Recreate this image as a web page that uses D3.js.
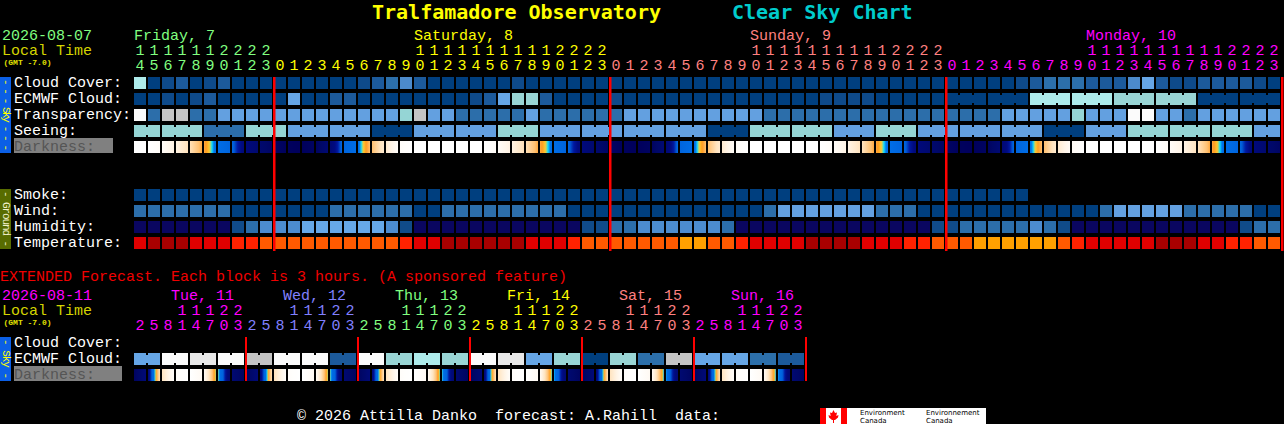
<!DOCTYPE html>
<html><head><meta charset="utf-8">
<script src="https://cdn.jsdelivr.net/npm/d3@7"></script>
<style>html,body{margin:0;padding:0;background:#000;overflow:hidden}svg{display:block}text{white-space:pre}</style>
</head><body><svg id="c" width="1284" height="424"></svg>
<script>
// ---------------- DATA ----------------
const mainHours = [14,15,16,17,18,19,20,21,22,23,
  0,1,2,3,4,5,6,7,8,9,10,11,12,13,14,15,16,17,18,19,20,21,22,23,
  0,1,2,3,4,5,6,7,8,9,10,11,12,13,14,15,16,17,18,19,20,21,22,23,
  0,1,2,3,4,5,6,7,8,9,10,11,12,13,14,15,16,17,18,19,20,21,22,23];
const mainDays = ["Friday, 7","Saturday, 8","Sunday, 9","Monday, 10"];
const mainDayColors = ["#80FF80","#FFFF00","#FF8080","#FF00FF"];
const mainDayLabelCol = [0,20,44,68];
const mainDayStartCol = [0,10,34,58];

// cloud cover %, hourly
const cloudCover = [70,0,10,20,0,10,20,0,0,0,
  0,0,0,0,0,0,10,20,30,40,20,0,0,0,0,0,0,10,0,0,0,0,0,0,
  0,0,0,0,0,0,0,0,0,0,0,0,0,0,0,0,0,0,0,0,0,0,0,0,
  0,0,0,0,0,10,20,30,30,30,20,20,20,40,50,20,10,10,20,20,20,20,10,0];
// ECMWF cloud %, hourly (Fri-Sun) then 3-hourly (Mon)
const ecmwfHourly = [0,0,10,0,10,20,0,0,0,0,
  0,50,0,0,20,20,0,0,0,0,0,0,0,0,10,20,50,60,60,20,0,0,0,0,
  10,0,0,0,0,0,0,0,0,0,0,0,0,0,0,10,10,10,10,0,0,0,0,0];
const ecmwf3h = [0,0,70,70,60,60,0,0];
// transparency 0=too cloudy .. 5=transparent
const transparency = [0,4,1,1,4,4,3,3,3,3,
  3,3,3,3,3,3,3,3,3,2,1,3,3,4,4,4,4,4,3,4,4,4,4,4,
  4,3,3,3,3,3,3,3,3,3,3,4,4,4,4,4,4,4,4,4,4,4,4,4,
  4,4,4,4,3,3,3,3,3,2,3,3,3,0,0,3,3,4,3,3,3,3,3,3];
// seeing 3-hour blocks, 1=bad .. 5=excellent
const seeing = [2,2,4,2,3,3,5,3,3,2,3,3,3,3,5,2,2,3,2,3,3,3,5,3,2,2,2,3];
// darkness (0 = daylight .. 10 = darkest), value at start of each hour (+ end)
const darkness = [0,0,0.3,1.1,2.1,3.3,4.6,5.3,6.8,7.6,
  8.4,8.9,9.0,8.6,7.3,5.3,4.6,3.0,1.6,0.2,0,0,0,0,0,0,0.3,1.1,2.1,3.3,4.6,5.3,6.8,7.6,
  8.4,8.9,9.0,8.6,7.3,5.3,4.6,3.0,1.6,0.3,0,0,0,0,0,0,0.3,1.0,2.0,3.3,4.6,5.3,6.8,7.6,
  8.4,8.9,9.0,8.6,7.3,5.3,4.6,3.0,1.6,0.4,0,0,0,0,0,0,0.3,1.0,2.0,3.3,4.6,5.3,6.8,7.6,
  8.4];
const smoke = [0,0,0,0,0,0,0,0,0,0,0,0,0,0,0,0,0,0,0,0,0,0,0,0,0,0,0,0,0,0,0,0,
  0,0,0,0,0,0,0,0,0,0,0,0,0,0,0,0,0,0,0,0,0,0,0,0,0,0,0,0,0,0,0,0];
// wind mph
const wind = [8,8,8,8,8,8,8,3,3,3,
  3,3,3,3,8,8,8,8,8,8,3,3,8,8,8,8,8,8,8,8,8,3,3,3,
  3,3,3,3,3,3,3,3,3,3,3,8,14,14,14,14,14,14,14,8,8,8,3,3,
  3,3,3,3,3,3,3,3,3,3,3,8,14,14,14,14,14,8,8,8,8,8,3,3];
// humidity %
const humidity = [20,20,20,20,20,20,20,35,45,55,
  55,55,65,65,65,65,65,65,55,35,20,20,20,20,20,20,20,20,20,20,20,20,35,35,
  45,45,55,55,55,55,55,55,45,20,20,20,20,20,20,20,20,20,20,20,20,20,20,35,
  35,45,45,45,45,45,55,45,35,20,20,20,20,20,20,20,20,20,20,20,20,35,45,45];
// temperature F
const temperature = [88,95,95,95,88,88,88,82,82,75,
  75,75,75,75,75,75,75,75,75,82,88,88,95,95,95,95,95,95,88,88,88,82,75,75,
  75,75,75,75,75,70,70,75,75,82,88,88,88,88,95,95,95,95,88,88,88,82,82,75,
  75,75,70,70,70,70,70,70,75,82,88,88,88,88,88,95,95,95,88,88,82,82,75,75];

// extended forecast
const extHours = [2,5,8,11,14,17,20,23, 2,5,8,11,14,17,20,23, 2,5,8,11,14,17,20,23,
  2,5,8,11,14,17,20,23, 2,5,8,11,14,17,20,23, 2,5,8,11,14,17,20,23];
const extDays = ["Tue, 11","Wed, 12","Thu, 13","Fri, 14","Sat, 15","Sun, 16"];
const extDayColors = ["#FF00FF","#8080FF","#80FF80","#FFFF00","#FF8080","#FF00FF"];
const extEcmwf = [50,100,90,100, 80,100,100,20, 100,60,70,60, 100,90,50,60, 0,60,30,80, 50,50,30,20];
const extDarkness = [8.6,7.0,2.0,0.2,0,0.5,4.0,7.4, 8.6,7.0,2.1,0.2,0,0.5,4.0,7.4,
  8.6,7.0,2.0,0.2,0,0.5,4.1,7.4, 8.6,7.0,2.0,0.2,0,0.5,4.2,7.4,
  8.6,7.0,2.0,0.2,0,0.5,4.3,7.4, 8.6,7.0,2.0,0.2,0,0.5,4.3,7.4, 8.6];

const skyRows = ["Cloud Cover:","ECMWF Cloud:","Transparency:","Seeing:","Darkness:"];
const groundRows = ["Smoke:","Wind:","Humidity:","Temperature:"];
const extRows = ["Cloud Cover:","ECMWF Cloud:","Darkness:"];

// ---------------- COLOURS ----------------
const cloudColor = d3.scaleThreshold().domain([5,15,25,35,45,55,65,75,85,95])
  .range(["#003F7F","#0E4A8A","#1C5A9B","#2C6FAA","#4C8ACB","#66A6E6","#99D5D5","#ADEBEB","#C4C4C4","#E8E8E8","#FBFBFB"]);
const levelColor = d3.scaleOrdinal().domain([0,1,2,3,4,5])
  .range(["#FBFBFB","#C4C4C4","#95D5D5","#63A0E0","#2C6EAA","#003F7F"]);
const windColor = d3.scaleThreshold().domain([5.5,11.5,16.5,28.5])
  .range(["#003F7F","#2C6EAA","#63A0E0","#95D5D5","#C4C4C4"]);
const humColor = d3.scaleThreshold().domain([25,40,50,60])
  .range(["#0A0660","#104B89","#2C6EAA","#4C8CCF","#66A8E8"]);
const tempColor = d3.scaleThreshold().domain([72,79,85,91])
  .range(["#FFA000","#FF5A00","#FF2200","#E00000","#A80000"]);
const smokeColor = d3.scaleThreshold().domain([1]).range(["#003F7F","#4C8ACB"]);
const darkColor = d3.scaleLinear()
  .domain([0,1,2,3,3.5,3.9,4.15,4.4,5.5,6.0,6.5,8,9,10])
  .range(["#FFFFFF","#FFF4E6","#FFE4C0","#FFC070","#FF9A20","#FFCC30","#10E0FF","#0070E8","#0062DC","#0018A0","#000A80","#000868","#00005C","#000050"])
  .clamp(true);

// ---------------- DRAW ----------------
const svg = d3.select("#c");
const MONO = "'Liberation Mono','DejaVu Sans Mono',monospace";
const defs = svg.append("defs");
svg.append("rect").attr("width",1284).attr("height",424).attr("fill","#000");

const N = mainHours.length;
const x = d3.scaleBand().domain(d3.range(N)).range([134, 134 + N*14 - 2]).paddingInner(2/14).paddingOuter(0);
const bw = x.bandwidth();
const ySky = d3.scaleBand().domain(skyRows).range([77,153]).paddingInner(0.25);
const yG = d3.scaleBand().domain(groundRows).range([189,249]).paddingInner(0.25);
const NE = extHours.length;
const xe = d3.scaleBand().domain(d3.range(NE)).range([134, 134 + NE*14 - 2]).paddingInner(2/14).paddingOuter(0);
const yE = d3.scaleBand().domain(extRows).range([337,381]).paddingInner(0.25);

function txt(g, s, X, Y, color, size, opts={}) {
  const t = g.append("text").attr("x",X).attr("y",Y).attr("fill",color)
    .attr("font-family", opts.family || MONO).attr("font-size", size)
    .attr("xml:space","preserve").text(s);
  if (opts.bold) t.attr("font-weight","bold");
  if (opts.anchor) t.attr("text-anchor", opts.anchor);
  return t;
}

// title
txt(svg,"Tralfamadore Observatory",372,18.5,"#FFFF00",20,{bold:true,family:"'DejaVu Sans Mono',monospace"});
txt(svg,"Clear Sky Chart",732,18.5,"#00CCCC",20,{bold:true,family:"'DejaVu Sans Mono',monospace"});

// header main
txt(svg,"2026-08-07",2,40,"#80FF80",15);
txt(svg,"Local Time",2,55,"#D4D400",15);
txt(svg,"(GMT -7.0)",3.5,64.5,"#E0E000",8,{bold:true});

function dayIndexMain(i){ let d=0; for(let k=0;k<mainDayStartCol.length;k++) if(i>=mainDayStartCol[k]) d=k; return d; }
mainDays.forEach((d,k)=> txt(svg,d,x(mainDayLabelCol[k]),40,mainDayColors[k],15));
mainHours.forEach((h,i)=>{
  const c = mainDayColors[dayIndexMain(i)];
  const cx = x(i)+bw/2;
  if (h>=10) txt(svg,String(Math.floor(h/10)),cx,55,c,15,{anchor:"middle"});
  txt(svg,String(h%10),cx,70,c,15,{anchor:"middle"});
});

// row labels
function rowLabels(rows, yS, darkW) {
  rows.forEach(r=>{
    const yy = yS(r);
    if (r==="Darkness:") {
      svg.append("rect").attr("x",14).attr("y",yy-3).attr("width",darkW).attr("height",15).attr("fill","#808080");
      txt(svg,r,14,yy+10,"#555555",15);
    } else txt(svg,r,14,yy+10,"#FFFFFF",15);
  });
}
rowLabels(skyRows, ySky, 99);
rowLabels(groundRows, yG, 99);

// side bars
function sideBar(y0,y1,fill,label,color){
  svg.append("rect").attr("x",0).attr("y",y0).attr("width",11).attr("height",y1-y0).attr("fill",fill);
  svg.append("text").attr("transform",`translate(5.5,${(y0+y1)/2}) rotate(90)`)
    .attr("text-anchor","middle").attr("dominant-baseline","central")
    .attr("font-family",MONO).attr("font-size",11).attr("fill",color)
    .attr("textLength",(y1-y0)-4).attr("lengthAdjust","spacing").text(label);
}
sideBar(77,153,"#0B5FE6","- - - Sky - - -","#FFFF00");
sideBar(189,249,"#586C00","- Ground -","#F0F0C8");
sideBar(337,381,"#0B5FE6","- Sky -","#FFFF00");

// cells
function cells(data, yy, colorFn, xs) {
  const xsc = xs || x;
  svg.append("g").selectAll("rect").data(data).join("rect")
    .attr("x",(d,i)=>xsc(i)).attr("y",yy).attr("width",xsc.bandwidth()).attr("height",12)
    .attr("fill",d=>colorFn(d));
}
// segmented (joined) blocks
function segments(segs, yy, colorFn, xs) {
  const xsc = xs || x;
  const g = svg.append("g");
  segs.forEach(s=>{
    for (let c=s.start;c<=s.end;c++){
      g.append("rect").attr("x",xsc(c)).attr("y",yy).attr("width",xsc.bandwidth()).attr("height",12).attr("fill",colorFn(s.v));
      if (c<s.end) g.append("rect").attr("x",xsc(c)+xsc.bandwidth()).attr("y",yy+2).attr("width",xsc.step()-xsc.bandwidth()).attr("height",8).attr("fill",colorFn(s.v));
    }
  });
}
function gradCells(vals, yy, xs, idp) {
  const xsc = xs || x;
  const n = vals.length-1;
  const g = svg.append("g");
  for (let i=0;i<n;i++){
    const id = idp+i;
    const lg = defs.append("linearGradient").attr("id",id).attr("x1",0).attr("x2",1).attr("y1",0).attr("y2",0);
    for (let k=0;k<=12;k++){
      const t=k/12; const v = vals[i]+(vals[i+1]-vals[i])*t;
      lg.append("stop").attr("offset",t).attr("stop-color",darkColor(v));
    }
    g.append("rect").attr("x",xsc(i)).attr("y",yy).attr("width",xsc.bandwidth()).attr("height",12).attr("fill",`url(#${id})`);
  }
}

cells(cloudCover, ySky("Cloud Cover:"), cloudColor);
cells(ecmwfHourly, ySky("ECMWF Cloud:"), cloudColor);
segments(ecmwf3h.map((v,k)=>({start:ecmwfHourly.length+3*k, end:ecmwfHourly.length+3*k+2, v})), ySky("ECMWF Cloud:"), cloudColor);
cells(transparency, ySky("Transparency:"), levelColor);
segments(seeing.map((v,k)=>{ const st = k===0?0:2+3*(k-1); return {start:st, end:Math.min(st+(k===0?1:2), N-1), v}; }), ySky("Seeing:"), levelColor);
gradCells(darkness, ySky("Darkness:"), x, "dk");

cells(smoke, yG("Smoke:"), smokeColor);
cells(wind, yG("Wind:"), windColor);
cells(humidity, yG("Humidity:"), humColor);
cells(temperature, yG("Temperature:"), tempColor);

// midnight lines main
mainDayStartCol.slice(1).concat([N]).forEach(c=>{
  const xx = c<N ? x(c) : x(N-1)+x.step();
  svg.append("rect").attr("x",xx-1).attr("y",77).attr("width",2.5).attr("height",174).attr("fill","#FF0000");
});

// ---------------- EXTENDED ----------------
txt(svg,"EXTENDED Forecast. Each block is 3 hours. (A sponsored feature)",0,281,"#F00000",15);
txt(svg,"2026-08-11",2,300,"#FF00FF",15);
txt(svg,"Local Time",2,315,"#D4D400",15);
txt(svg,"(GMT -7.0)",3.5,325,"#E0E000",8,{bold:true});
extDays.forEach((d,k)=> txt(svg,d,xe(8*k+3)-5,300,extDayColors[k],15));
extHours.forEach((h,i)=>{
  const c = extDayColors[Math.floor(i/8)];
  const cx = xe(i)+xe.bandwidth()/2;
  if (h>=10) txt(svg,String(Math.floor(h/10)),cx,315,c,15,{anchor:"middle"});
  txt(svg,String(h%10),cx,330,c,15,{anchor:"middle"});
});
rowLabels(extRows, yE, 108);
segments(extEcmwf.map((v,k)=>({start:2*k,end:2*k+1,v})), yE("ECMWF Cloud:"), cloudColor, xe);
gradCells(extDarkness, yE("Darkness:"), xe, "edk");
d3.range(1,7).forEach(k=>{
  const c = 8*k;
  const xx = c<NE ? xe(c) : xe(NE-1)+xe.step();
  svg.append("rect").attr("x",xx-1).attr("y",337).attr("width",2).attr("height",44).attr("fill","#FF0000");
});

// ---------------- FOOTER ----------------
txt(svg,"\u00A9 2026 Attilla Danko  forecast: A.Rahill  data:",297,420,"#FFFFFF",15);
const lg = svg.append("g").attr("transform","translate(820,408)");
lg.append("rect").attr("width",166).attr("height",16).attr("fill","#FFFFFF");
lg.append("rect").attr("x",0).attr("width",6).attr("height",16).attr("fill","#FF0000");
lg.append("rect").attr("x",21).attr("width",6).attr("height",16).attr("fill","#FF0000");
lg.append("path").attr("d","M13.5,2 L15,5 L17,4.5 L16.3,8 L18.5,7 L18,9.5 L15,12 L14,12 L14,15 L13,15 L13,12 L12,12 L9,9.5 L8.5,7 L10.7,8 L10,4.5 L12,5 Z").attr("fill","#FF0000");
txt(lg,"Environment",40,7,"#000000",7,{family:"'DejaVu Sans',sans-serif"});
txt(lg,"Canada",40,15,"#000000",7,{family:"'DejaVu Sans',sans-serif"});
txt(lg,"Environnement",106,7,"#000000",7,{family:"'DejaVu Sans',sans-serif"});
txt(lg,"Canada",106,15,"#000000",7,{family:"'DejaVu Sans',sans-serif"});
</script>
</body></html>
